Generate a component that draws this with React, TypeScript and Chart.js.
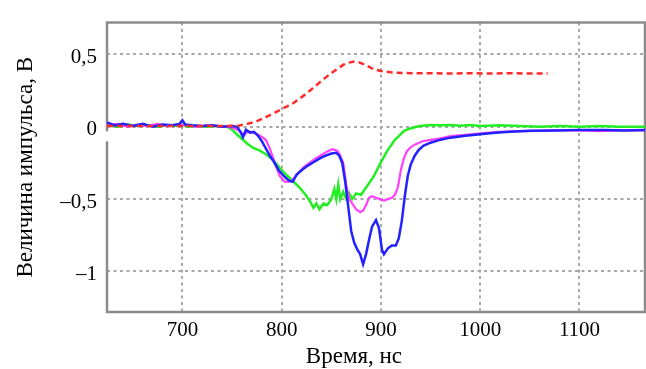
import React, { useEffect, useRef } from "react";
import { Chart, registerables } from "chart.js";

Chart.register(...registerables);

const xTicks = [700, 800, 900, 1000, 1100];
const xTickLabels = ["700", "800", "900", "1000", "1100"];
const yTicks = [-1, -0.5, 0, 0.5];
const yTickLabels = ["–1", "–0,5", "0", "0,5"];
const xTitle = "Время, нс";
const yTitle = "Величина импульса, В";

const redX = [624, 650, 680, 710, 740, 757, 765, 774, 782, 791, 798, 805, 812, 818, 825, 831, 838, 845, 852, 858, 865, 872, 878, 885, 892, 900, 912, 930, 950, 970, 990, 1010, 1030, 1050, 1068];
const redY = [0.005, 0.005, 0.005, 0.005, 0.005, 0.008, 0.02, 0.035, 0.06, 0.09, 0.115, 0.14, 0.165, 0.195, 0.23, 0.265, 0.305, 0.345, 0.38, 0.41, 0.44, 0.45, 0.445, 0.425, 0.4, 0.385, 0.375, 0.37, 0.37, 0.368, 0.37, 0.368, 0.37, 0.368, 0.368];

const greenX = [624, 635, 645, 655, 665, 675, 685, 695, 700, 705, 715, 725, 735, 745, 750, 756, 761, 766, 771, 778, 784, 790, 794, 800, 805, 812, 818, 824, 829, 832, 835, 838, 842, 846, 850, 853, 855, 857, 859, 862, 865, 868, 871, 875, 880, 885, 889, 893, 898, 902, 906, 910, 914, 918, 923, 928, 933, 939, 950, 960, 970, 980, 990, 1000, 1020, 1040, 1060, 1080, 1100, 1120, 1140, 1166];
const greenY = [0.01, 0.0, 0.015, 0.005, 0.01, 0.0, 0.01, 0.005, 0.015, 0.0, 0.005, 0.0, 0.005, 0.0, -0.02, -0.06, -0.09, -0.12, -0.145, -0.165, -0.19, -0.22, -0.25, -0.3, -0.335, -0.38, -0.42, -0.47, -0.52, -0.56, -0.53, -0.57, -0.53, -0.54, -0.5, -0.43, -0.5, -0.4, -0.5, -0.45, -0.5, -0.46, -0.5, -0.46, -0.47, -0.42, -0.38, -0.34, -0.27, -0.22, -0.17, -0.13, -0.09, -0.065, -0.03, -0.015, -0.005, 0.005, 0.012, 0.01, 0.012, 0.008, 0.012, 0.005, 0.01, 0.005, 0.0, 0.005, 0.0, 0.005, 0.0, 0.0];

const magentaX = [624, 635, 645, 655, 665, 675, 685, 695, 705, 715, 725, 735, 745, 752, 758, 762, 766, 770, 775, 780, 784, 788, 793, 798, 803, 808, 812, 817, 822, 828, 834, 840, 846, 851, 856, 859, 862, 865, 868, 871, 875, 879, 882, 885, 888, 891, 895, 899, 903, 907, 911, 914, 917, 920, 923, 926, 930, 935, 942, 950, 960, 970, 985, 1000, 1020, 1040, 1060, 1080, 1100, 1120, 1140, 1166];
const magentaY = [0.01, 0.02, 0.0, 0.015, 0.005, 0.02, 0.005, 0.015, 0.01, 0.0, 0.01, 0.005, 0.0, -0.01, -0.03, -0.06, -0.03, -0.04, -0.05, -0.07, -0.09, -0.15, -0.25, -0.34, -0.38, -0.38, -0.36, -0.32, -0.28, -0.25, -0.22, -0.195, -0.17, -0.155, -0.165, -0.2, -0.25, -0.4, -0.5, -0.53, -0.57, -0.59, -0.58, -0.54, -0.49, -0.48, -0.49, -0.5, -0.51, -0.5, -0.49, -0.47, -0.42, -0.3, -0.22, -0.17, -0.14, -0.12, -0.1, -0.09, -0.08, -0.065, -0.055, -0.045, -0.035, -0.03, -0.028, -0.025, -0.025, -0.03, -0.025, -0.025];

const blueX = [624, 632, 640, 650, 660, 670, 680, 690, 697, 700, 703, 710, 720, 730, 740, 750, 755, 758, 761, 764, 768, 772, 776, 780, 784, 788, 792, 797, 802, 807, 811, 815, 820, 826, 832, 838, 844, 850, 855, 858, 861, 864, 867, 870, 873, 876, 879, 882, 885, 888, 891, 895, 898, 901, 903, 907, 911, 915, 918, 921, 924, 927, 930, 934, 938, 943, 950, 960, 970, 985, 1000, 1015, 1030, 1050, 1075, 1100, 1125, 1145, 1166];
const blueY = [0.03, 0.01, 0.02, 0.005, 0.02, 0.0, 0.015, 0.01, 0.02, 0.045, 0.015, 0.01, 0.005, 0.01, 0.0, 0.005, 0.0, -0.03, -0.07, -0.02, -0.04, -0.035, -0.06, -0.1, -0.15, -0.2, -0.24, -0.3, -0.34, -0.37, -0.38, -0.33, -0.3, -0.27, -0.245, -0.22, -0.2, -0.185, -0.18, -0.2, -0.25, -0.38, -0.55, -0.72, -0.8, -0.845, -0.88, -0.95, -0.88, -0.78, -0.69, -0.645, -0.7, -0.85, -0.88, -0.84, -0.82, -0.82, -0.77, -0.65, -0.48, -0.34, -0.26, -0.2, -0.16, -0.13, -0.11, -0.089, -0.075, -0.062, -0.052, -0.042, -0.035, -0.028, -0.025, -0.022, -0.022, -0.025, -0.022];

const pts = (xs: number[], ys: number[]) => xs.map((x, i) => ({ x, y: ys[i] }));

const FONT = "'Liberation Serif', 'Times New Roman', serif";

const framePlugin = {
  id: "frame",
  beforeDatasetsDraw(chart: any) {
    const { ctx, chartArea: a, scales } = chart;
    ctx.save();
    ctx.strokeStyle = "#8c8c8c";
    ctx.lineWidth = 2.5;
    ctx.beginPath();
    const gapTop = scales.y.getPixelForValue(-0.03);
    const gapBottom = scales.y.getPixelForValue(-0.1);
    ctx.moveTo(a.left, gapTop);
    ctx.lineTo(a.left, a.top);
    ctx.lineTo(a.right, a.top);
    ctx.lineTo(a.right, a.bottom);
    ctx.lineTo(a.left, a.bottom);
    ctx.lineTo(a.left, gapBottom);
    ctx.stroke();
    ctx.restore();
  },
  afterDraw(chart: any) {
    const { ctx, chartArea: a } = chart;
    ctx.save();
    ctx.fillStyle = "#000";
    ctx.font = `23px ${FONT}`;
    ctx.textAlign = "center";
    ctx.textBaseline = "alphabetic";
    ctx.fillText(xTitle, a.left + (a.right - a.left) * 0.459, 363);
    ctx.restore();
  },
};

export default function App() {
  const ref = useRef<HTMLCanvasElement>(null);
  useEffect(() => {
    document.body.style.margin = "0";
    const line = (data: any, color: string, width: number, dash: number[] = []) => ({
      data,
      borderColor: color,
      borderWidth: width,
      borderDash: dash,
      pointRadius: 0,
      tension: 0,
      fill: false,
    });
    const chart = new Chart(ref.current!, {
      type: "line",
      data: {
        datasets: [
          line(pts(redX, redY), "#ff2a2a", 2.5, [6, 4]),
          line(pts(blueX, blueY), "#2222ff", 2.5),
          line(pts(magentaX, magentaY), "#ff40ff", 2.2),
          line(pts(greenX, greenY), "#22ee22", 2.5),
        ],
      },
      options: {
        animation: false,
        responsive: false,
        devicePixelRatio: 1,
        layout: { padding: { top: 12, right: 1, left: 0, bottom: 0 } },
        plugins: { legend: { display: false }, tooltip: { enabled: false } },
        scales: {
          x: {
            type: "linear",
            min: 624,
            max: 1166,
            afterBuildTicks: (s: any) => {
              s.ticks = xTicks.map((v) => ({ value: v }));
            },
            afterFit: (s: any) => {
              s.height = 57;
            },
            ticks: {
              font: { family: FONT, size: 21 },
              color: "#000",
              padding: 6,
              maxRotation: 0,
              autoSkip: false,
              callback: (v: any) => {
                const i = xTicks.indexOf(Number(v));
                return i >= 0 ? xTickLabels[i] : "";
              },
            },
            grid: { color: "#a8a8a8", lineWidth: 2, drawTicks: false },
            border: { display: false, dash: [3, 3.5] },
            title: { display: false },
          },
          y: {
            type: "linear",
            min: -1.28,
            max: 0.72,
            afterBuildTicks: (s: any) => {
              s.ticks = yTicks.map((v) => ({ value: v }));
            },
            afterFit: (s: any) => {
              s.width = 107;
            },
            ticks: {
              font: { family: FONT, size: 21 },
              color: "#000",
              padding: 10,
              labelOffset: 3,
              autoSkip: false,
              callback: (v: any) => {
                const i = yTicks.indexOf(Number(v));
                return i >= 0 ? yTickLabels[i] : "";
              },
            },
            grid: { color: "#a8a8a8", lineWidth: 2, drawTicks: false },
            border: { display: false, dash: [3, 3.5] },
            title: {
              display: true,
              text: yTitle,
              color: "#000",
              font: { family: FONT, size: 23 },
              padding: { top: 12, bottom: 0 },
            },
          },
        },
      },
      plugins: [framePlugin],
    });
    return () => chart.destroy();
  }, []);
  return (
    <div style={{ width: 646, height: 369, position: "relative" }}>
      <canvas ref={ref} width={646} height={369} />
    </div>
  );
}
